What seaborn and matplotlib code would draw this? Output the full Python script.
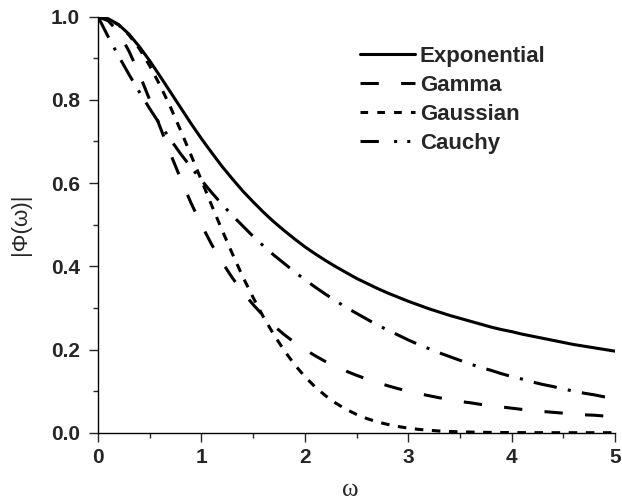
import matplotlib
matplotlib.use("Agg")
import matplotlib.pyplot as plt
from matplotlib.ticker import MultipleLocator
from matplotlib.lines import Line2D
import seaborn as sns
import pandas as pd

omega = [0.0, 0.1, 0.2, 0.3, 0.4, 0.5, 0.6, 0.7, 0.8, 0.9,
         1.0, 1.1, 1.2, 1.3, 1.4, 1.5, 1.6, 1.7, 1.8, 1.9,
         2.0, 2.1, 2.2, 2.3, 2.4, 2.5, 2.6, 2.7, 2.8, 2.9,
         3.0, 3.1, 3.2, 3.3, 3.4, 3.5, 3.6, 3.7, 3.8, 3.9,
         4.0, 4.1, 4.2, 4.3, 4.4, 4.5, 4.6, 4.7, 4.8, 4.9, 5.0]

exponential = [1.000, 0.995, 0.981, 0.958, 0.928, 0.894, 0.857, 0.819, 0.781, 0.743,
               0.707, 0.673, 0.640, 0.610, 0.581, 0.555, 0.530, 0.507, 0.486, 0.466,
               0.447, 0.430, 0.414, 0.399, 0.385, 0.371, 0.359, 0.347, 0.336, 0.326,
               0.316, 0.307, 0.298, 0.290, 0.282, 0.275, 0.268, 0.261, 0.254, 0.248,
               0.243, 0.237, 0.232, 0.227, 0.222, 0.217, 0.212, 0.208, 0.204, 0.200, 0.196]

gamma = [1.000, 0.990, 0.962, 0.917, 0.862, 0.800, 0.735, 0.671, 0.610, 0.552,
         0.500, 0.452, 0.410, 0.372, 0.338, 0.308, 0.281, 0.257, 0.236, 0.217,
         0.200, 0.185, 0.171, 0.159, 0.148, 0.138, 0.129, 0.121, 0.113, 0.106,
         0.100, 0.094, 0.089, 0.084, 0.080, 0.075, 0.072, 0.068, 0.065, 0.062,
         0.059, 0.056, 0.054, 0.051, 0.049, 0.047, 0.045, 0.043, 0.042, 0.040, 0.038]

gaussian = [1.000, 0.995, 0.980, 0.956, 0.923, 0.882, 0.835, 0.783, 0.726, 0.667,
            0.607, 0.546, 0.487, 0.430, 0.375, 0.325, 0.278, 0.236, 0.198, 0.164,
            0.135, 0.110, 0.089, 0.071, 0.056, 0.044, 0.034, 0.026, 0.020, 0.015,
            0.011, 0.008, 0.006, 0.004, 0.003, 0.002, 0.0015, 0.001, 0.0007, 0.0005,
            0.0003, 0.0002, 0.0001, 0.0001, 0.0, 0.0, 0.0, 0.0, 0.0, 0.0, 0.0]

cauchy = [1.000, 0.951, 0.905, 0.861, 0.819, 0.779, 0.741, 0.705, 0.670, 0.638,
          0.607, 0.577, 0.549, 0.522, 0.497, 0.472, 0.449, 0.427, 0.407, 0.387,
          0.368, 0.350, 0.333, 0.317, 0.301, 0.287, 0.273, 0.259, 0.247, 0.235,
          0.223, 0.212, 0.202, 0.192, 0.183, 0.174, 0.165, 0.157, 0.150, 0.142,
          0.135, 0.129, 0.122, 0.116, 0.111, 0.105, 0.100, 0.095, 0.091, 0.086, 0.082]

series_names = ["Exponential", "Gamma", "Gaussian", "Cauchy"]
x_ticks = [0, 1, 2, 3, 4, 5]
y_ticks = [0.0, 0.2, 0.4, 0.6, 0.8, 1.0]

sns.set_style("ticks")
plt.rcParams["font.family"] = ["Liberation Sans", "DejaVu Sans"]

df = pd.DataFrame({
    "omega": omega * 4,
    "value": exponential + gamma + gaussian + cauchy,
    "dist": sum([[n] * len(omega) for n in series_names], []),
})

styles = {
    "Exponential": "-",
    "Gamma": (0, (6, 7.3)),
    "Gaussian": (0, (2.8, 2.8)),
    "Cauchy": (0, (7.7, 3.7, 1, 3.7)),
}
legend_styles = {
    "Exponential": "-",
    "Gamma": (0, (6, 7.3)),
    "Gaussian": (0, (2.5, 3.0)),
    "Cauchy": (0, (6, 5, 1, 3.3, 1, 10)),
}
LW = 2.2

fig = plt.figure(figsize=(6.22, 5.0), dpi=100)
ax = fig.add_axes([98 / 622, 1 - 432.7 / 500, 517 / 622, 416 / 500])

for name in series_names:
    sub = df[df["dist"] == name]
    sns.lineplot(data=sub, x="omega", y="value", ax=ax, color="black",
                 linewidth=LW, linestyle=styles[name], legend=False)

ax.set_xlim(0, 5)
ax.set_ylim(0, 1.0)
ax.set_xticks(x_ticks)
ax.set_yticks(y_ticks)
ax.set_xticklabels([str(t) for t in x_ticks])
ax.set_yticklabels([f"{t:.1f}" for t in y_ticks])
ax.xaxis.set_minor_locator(MultipleLocator(0.5))
ax.yaxis.set_minor_locator(MultipleLocator(0.1))
ax.tick_params(which="major", direction="out", length=6.5, width=1.0, labelsize=15)
ax.tick_params(axis="x", which="major", pad=4.5)
ax.tick_params(axis="y", which="major", pad=6.5)
ax.tick_params(which="minor", direction="out", length=3.5, width=1.0)
for lab in ax.get_xticklabels() + ax.get_yticklabels():
    lab.set_fontweight("bold")
for s in ["top", "right"]:
    ax.spines[s].set_visible(False)
for s in ["left", "bottom"]:
    ax.spines[s].set_linewidth(1.0)
    ax.spines[s].set_color("black")

ax.set_xlabel("ω", fontsize=18, family=["Liberation Serif", "DejaVu Serif"],
              labelpad=9, x=0.487)
ax.set_ylabel("|Φ(ω)|", fontsize=16, labelpad=14)

handles = [Line2D([], [], color="black", linewidth=LW, linestyle=legend_styles[n])
           for n in series_names]
leg = ax.legend(handles, series_names, loc="upper left", bbox_to_anchor=(0.507, 0.929),
                frameon=False, borderpad=0, borderaxespad=0, handlelength=2.48,
                handletextpad=0.2, labelspacing=0.35,
                prop={"weight": "bold", "size": 16})

fig.savefig("out.png", dpi=100)
